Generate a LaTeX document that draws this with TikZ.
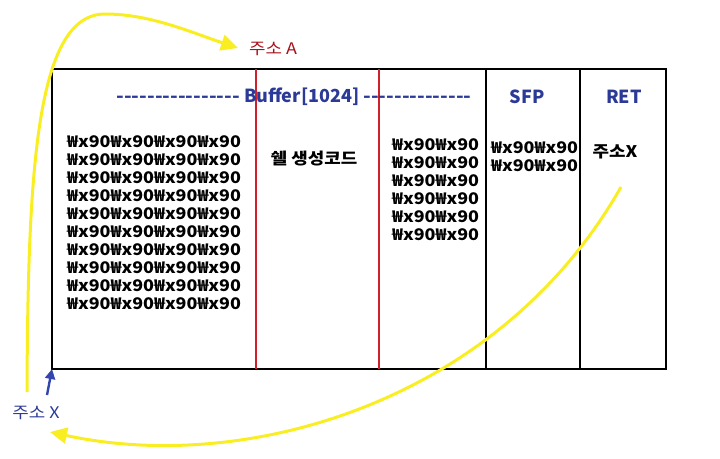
\documentclass[tikz,border=0pt]{standalone}
\usepackage{fontspec}
\setmainfont{Noto Sans CJK KR}[Ligatures=TeXOff]
\newfontfamily\widefont{Noto Sans CJK KR}[FakeStretch=1.12, Ligatures=TeXOff]
\usetikzlibrary{arrows.meta}
\definecolor{ttblue}{HTML}{2B3A96}
\definecolor{ttred}{HTML}{A8101A}
\definecolor{linered}{HTML}{D0202A}
\definecolor{arryel}{HTML}{F9EE22}
\definecolor{arrblue}{HTML}{3346B0}
\tikzset{
  frame/.style={line width=2.8pt, black},
  redline/.style={line width=1.8pt, linered},
  blackline/.style={line width=2.2pt, black},
  hdr/.style={font=\fontsize{18}{20}\selectfont\bfseries, text=ttblue, inner sep=0pt},
  hexblk/.style={font=\widefont\fontsize{16}{18}\selectfont\bfseries, align=left, inner sep=0pt, anchor=north west},
  body/.style={font=\widefont\fontsize{16}{18}\selectfont\bfseries, inner sep=0pt},
  lab/.style={font=\widefont\fontsize{16}{18}\selectfont, inner sep=0pt},
  yarrow/.style={line width=3pt, arryel, -{Triangle[length=17pt,width=16pt]}},
  barrow/.style={line width=2.4pt, arrblue, -{Triangle[length=10pt,width=10pt]}}
}
\begin{document}
\begin{tikzpicture}[x=1pt,y=-1pt]
\useasboundingbox (0,0) rectangle (720,458);
% frame
\draw[frame] (52,69) rectangle (666,369);
\coordinate (corner) at (52,369);
\draw[redline] (256,69) -- (256,369);
\draw[redline] (379,69) -- (379,369);
\draw[blackline] (486,69) -- (486,369);
\draw[blackline] (580,69) -- (580,369);
% headers
\node[hdr] (buf) at (294,97) {{\widefont ----------------} Buffer[1024] {\widefont --------------}};
\node[hdr] (sfp) at (527,97) {SFP};
\node[hdr] (ret) at (624,97) {RET};
% contents
\node[hexblk] (blk1) at (67,135) {₩x90₩x90₩x90₩x90\\₩x90₩x90₩x90₩x90\\₩x90₩x90₩x90₩x90\\₩x90₩x90₩x90₩x90\\₩x90₩x90₩x90₩x90\\₩x90₩x90₩x90₩x90\\₩x90₩x90₩x90₩x90\\₩x90₩x90₩x90₩x90\\₩x90₩x90₩x90₩x90\\₩x90₩x90₩x90₩x90};
\node[body] (shell) at (314,159) {쉘 생성코드};
\node[hexblk] (blk2) at (392,138) {₩x90₩x90\\₩x90₩x90\\₩x90₩x90\\₩x90₩x90\\₩x90₩x90\\₩x90₩x90};
\node[hexblk] (blk3) at (491,141) {₩x90₩x90\\₩x90₩x90};
\node[body] (addrx) at (615,152) {주소X};
% labels
\node[lab, text=ttred] (labA) at (273,49) {주소 A};
\node[lab, text=ttblue] (labX) at (36,413) {주소 X};
% arrows
\coordinate (ystart) at (27,392);
\coordinate (tipA) at (238,48);
\coordinate (retpt) at (621,187);
\coordinate (tipX) at (50,432);
\coordinate (bstart) at (47,395);
\draw[yarrow] (ystart) .. controls (28,170) and (36,14) .. (105,14) .. controls (150,14) and (190,32) .. (tipA);
\draw[yarrow] (retpt) .. controls (500,400) and (250,475) .. (tipX);
\draw[barrow] (bstart) -- (corner);
\end{tikzpicture}
\end{document}
